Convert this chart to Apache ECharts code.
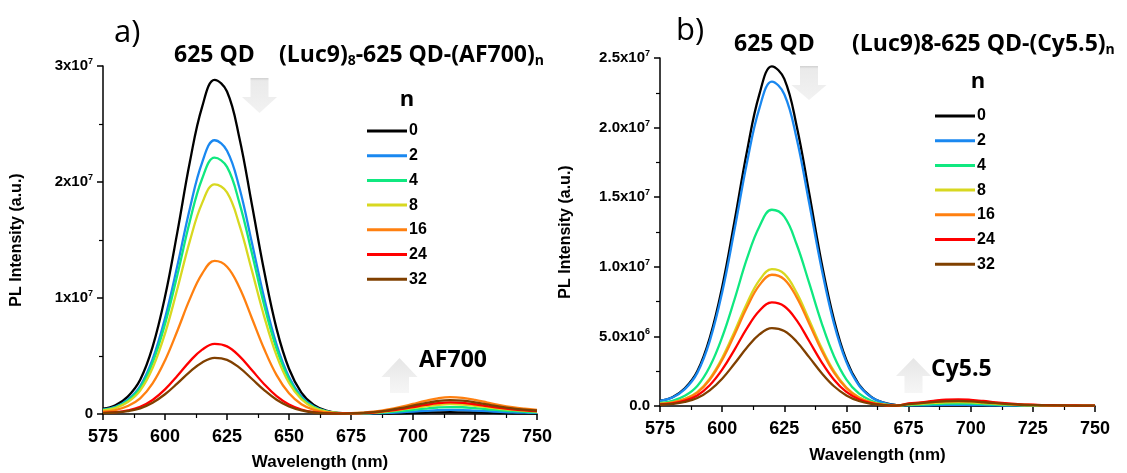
<!DOCTYPE html>
<html>
<head>
<meta charset="utf-8">
<script src="https://cdn.jsdelivr.net/npm/echarts@6/dist/echarts.min.js"></script>
<style>
  html, body { margin: 0; padding: 0; background: #fff; }
  #chart { width: 1127px; height: 473px; }
</style>
</head>
<body>
<div id="chart"></div>
<script>
// wavelength (nm), 5 nm steps
const wavelength = [575, 580, 585, 590, 595, 600, 605, 610, 615, 620, 625, 630, 635, 640, 645, 650, 655, 660,
  665, 670, 675, 680, 685, 690, 695, 700, 705, 710, 715, 720, 725, 730, 735, 740, 745, 750]

const nValues = ['0', '2', '4', '8', '16', '24', '32']
const lineColors = ['#000000', '#1a88f0', '#10e880', '#d8d820', '#ff8010', '#ff0000', '#804000']

// panel a) (Luc9)8-625 QD-(AF700)n, PL intensity in units of 1e6
const afN0 = [0.46, 0.75, 1.50, 2.95, 5.78, 10.1, 15.7, 21.7, 26.5, 28.8, 27.8, 23.8, 18.1, 12.3, 7.34, 3.90, 1.85, 0.78,
  0.29, 0.09, 0.04, 0.02, 0.02, 0.04, 0.06, 0.09, 0.12, 0.14, 0.15, 0.14, 0.13, 0.10, 0.08, 0.06, 0.05, 0.04]
const afN2 = [0.38, 0.61, 1.23, 2.41, 4.72, 8.26, 12.8, 17.7, 21.7, 23.6, 22.7, 19.5, 14.8, 10.0, 5.99, 3.19, 1.51, 0.64,
  0.24, 0.08, 0.04, 0.03, 0.05, 0.09, 0.15, 0.21, 0.27, 0.33, 0.35, 0.34, 0.29, 0.24, 0.19, 0.14, 0.11, 0.09]
const afN4 = [0.35, 0.57, 1.15, 2.25, 4.42, 7.74, 12.0, 16.6, 20.3, 22.1, 21.3, 18.2, 13.9, 9.37, 5.61, 2.98, 1.41, 0.60,
  0.23, 0.08, 0.04, 0.05, 0.09, 0.16, 0.25, 0.36, 0.47, 0.56, 0.60, 0.58, 0.50, 0.41, 0.32, 0.25, 0.19, 0.15]
const afN8 = [0.32, 0.51, 1.03, 2.02, 3.96, 6.93, 10.8, 14.9, 18.2, 19.8, 19.1, 16.3, 12.4, 8.40, 5.03, 2.67, 1.27, 0.53,
  0.21, 0.08, 0.05, 0.07, 0.13, 0.23, 0.36, 0.51, 0.66, 0.79, 0.85, 0.82, 0.71, 0.58, 0.45, 0.35, 0.27, 0.21]
const afN16 = [0.21, 0.34, 0.69, 1.35, 2.64, 4.62, 7.18, 9.90, 12.1, 13.2, 12.7, 10.9, 8.28, 5.60, 3.35, 1.78, 0.84, 0.36,
  0.15, 0.07, 0.07, 0.12, 0.22, 0.39, 0.61, 0.87, 1.13, 1.35, 1.45, 1.39, 1.22, 0.99, 0.77, 0.59, 0.46, 0.36]
const afN24 = [0.10, 0.16, 0.31, 0.62, 1.21, 2.12, 3.29, 4.54, 5.55, 6.04, 5.83, 4.99, 3.79, 2.57, 1.54, 0.82, 0.39, 0.16,
  0.07, 0.04, 0.05, 0.08, 0.15, 0.27, 0.42, 0.60, 0.78, 0.93, 1.00, 0.96, 0.84, 0.68, 0.53, 0.41, 0.32, 0.25]
const afN32 = [0.08, 0.13, 0.25, 0.49, 0.97, 1.70, 2.64, 3.64, 4.45, 4.84, 4.67, 4.00, 3.04, 2.06, 1.23, 0.65, 0.31, 0.13,
  0.06, 0.03, 0.05, 0.10, 0.18, 0.32, 0.50, 0.72, 0.94, 1.12, 1.20, 1.15, 1.01, 0.82, 0.64, 0.49, 0.38, 0.30]

// panel b) (Luc9)8-625 QD-(Cy5.5)n, PL intensity in units of 1e6
const cyN0 = [0.39, 0.63, 1.27, 2.49, 4.88, 8.54, 13.3, 18.3, 22.4, 24.4, 23.5, 20.1, 15.3, 10.3, 6.20, 3.29, 1.56, 0.66,
  0.24, 0.07, 0.03, 0.02, 0.03, 0.04, 0.04, 0.04, 0.03, 0.02, 0.02, 0.01, 0.01, 0.01, 0.01, 0.01, 0.01, 0.01]
const cyN2 = [0.37, 0.61, 1.21, 2.38, 4.66, 8.16, 12.7, 17.5, 21.4, 23.3, 22.4, 19.2, 14.6, 9.88, 5.92, 3.15, 1.49, 0.63,
  0.23, 0.07, 0.05, 0.04, 0.06, 0.08, 0.08, 0.07, 0.06, 0.04, 0.03, 0.02, 0.01, 0.01, 0.01, 0.01, 0.01, 0.01]
const cyN4 = [0.23, 0.37, 0.73, 1.44, 2.82, 4.94, 7.67, 10.6, 12.9, 14.1, 13.6, 11.6, 8.84, 5.98, 3.58, 1.90, 0.90, 0.38,
  0.14, 0.04, 0.07, 0.10, 0.14, 0.17, 0.18, 0.17, 0.14, 0.10, 0.07, 0.05, 0.03, 0.02, 0.02, 0.01, 0.01, 0.01]
const cyN8 = [0.16, 0.26, 0.51, 1.00, 1.97, 3.45, 5.36, 7.39, 9.04, 9.83, 9.49, 8.13, 6.18, 4.18, 2.50, 1.33, 0.63, 0.27,
  0.10, 0.03, 0.11, 0.15, 0.22, 0.27, 0.28, 0.26, 0.21, 0.15, 0.11, 0.07, 0.05, 0.04, 0.03, 0.02, 0.02, 0.01]
const cyN16 = [0.15, 0.25, 0.49, 0.96, 1.89, 3.31, 5.14, 7.09, 8.68, 9.43, 9.10, 7.80, 5.93, 4.01, 2.40, 1.28, 0.60, 0.26,
  0.09, 0.03, 0.16, 0.23, 0.33, 0.40, 0.42, 0.39, 0.32, 0.23, 0.16, 0.11, 0.08, 0.05, 0.04, 0.03, 0.03, 0.02]
const cyN24 = [0.12, 0.19, 0.39, 0.76, 1.49, 2.61, 4.05, 5.59, 6.84, 7.44, 7.17, 6.15, 4.67, 3.16, 1.89, 1.01, 0.48, 0.20,
  0.07, 0.02, 0.18, 0.26, 0.37, 0.46, 0.48, 0.44, 0.36, 0.26, 0.18, 0.12, 0.09, 0.06, 0.05, 0.04, 0.03, 0.02]
const cyN32 = [0.09, 0.15, 0.29, 0.57, 1.12, 1.96, 3.05, 4.20, 5.14, 5.59, 5.39, 4.62, 3.51, 2.37, 1.42, 0.76, 0.36, 0.15,
  0.06, 0.02, 0.13, 0.20, 0.28, 0.34, 0.36, 0.33, 0.27, 0.20, 0.14, 0.09, 0.06, 0.05, 0.04, 0.03, 0.02, 0.02]

// tick labels: [mantissa text, exponent]
const yTicksA = { 0: ['0', ''], 10: ['1x10', '7'], 20: ['2x10', '7'], 30: ['3x10', '7'] }
const yTicksB = { 0: ['0.0', ''], 5: ['5.0x10', '6'], 10: ['1.0x10', '7'], 15: ['1.5x10', '7'], 20: ['2.0x10', '7'], 25: ['2.5x10', '7'] }

const afSeries = [afN0, afN2, afN4, afN8, afN16, afN24, afN32]
const cySeries = [cyN0, cyN2, cyN4, cyN8, cyN16, cyN24, cyN32]

const SANS = '"Liberation Sans", Arial, sans-serif'
const CAL = '"Open Sans", "Noto Sans", sans-serif'

const chart = echarts.init(document.getElementById('chart'))

function pairs(ys) {
  return wavelength.map((x, i) => [x, ys[i]])
}

function tickFmt(table) {
  return function(v) {
    const t = table[Math.round(v)]
    if (!t) return ''
    return t[1] ? '{m|' + t[0] + '}{s|' + t[1] + '}' : '{m|' + t[0] + '}'
  }
}

const richTick = {
  m: { fontFamily: SANS, fontWeight: 'bold', fontSize: 15, color: '#000' },
  s: { fontFamily: SANS, fontWeight: 'bold', fontSize: 9, color: '#000', padding: [0, 0, 9, 0] }
}

function xAxis(gridIndex, gap) {
  return {
    type: 'value',
    gridIndex: gridIndex,
    min: 575,
    max: 750,
    interval: 25,
    name: 'Wavelength (nm)',
    nameLocation: 'middle',
    nameGap: gap,
    nameTextStyle: { fontFamily: SANS, fontWeight: 'bold', fontSize: 17, color: '#000', verticalAlign: 'top' },
    axisLine: { lineStyle: { color: '#000', width: 1.5 } },
    axisTick: { inside: false, length: 6, lineStyle: { color: '#000', width: 1.5 } },
    minorTick: { show: true, splitNumber: 2, length: 4, lineStyle: { color: '#000', width: 1.2 } },
    axisLabel: { fontFamily: SANS, fontWeight: 'bold', fontSize: 18, color: '#000', margin: 14 },
    splitLine: { show: false }
  }
}

function yAxis(gridIndex, max, interval, table, gap) {
  return {
    type: 'value',
    gridIndex: gridIndex,
    min: 0,
    max: max,
    interval: interval,
    name: 'PL Intensity (a.u.)',
    nameLocation: 'middle',
    nameGap: gap,
    nameTextStyle: { fontFamily: SANS, fontWeight: 'bold', fontSize: 16, color: '#000' },
    axisLine: { show: true, lineStyle: { color: '#000', width: 1.5 } },
    axisTick: { show: true, inside: false, length: 6, lineStyle: { color: '#000', width: 1.5 } },
    minorTick: { show: true, splitNumber: 2, length: 4, lineStyle: { color: '#000', width: 1.2 } },
    axisLabel: { formatter: tickFmt(table), rich: richTick, margin: 10 },
    splitLine: { show: false }
  }
}

function lines(list, idx) {
  return list.map((ys, i) => ({
    name: nValues[i],
    type: 'line',
    xAxisIndex: idx,
    yAxisIndex: idx,
    data: pairs(ys),
    smooth: 0.4,
    symbol: 'none',
    lineStyle: { color: lineColors[i], width: 2.3 },
    itemStyle: { color: lineColors[i] },
    z: 2 + i
  }))
}

function legend(left, top) {
  return {
    data: nValues,
    orient: 'vertical',
    left: left,
    top: top,
    icon: 'rect',
    itemWidth: 40,
    itemHeight: 3,
    itemGap: 8.7,
    selectedMode: false,
    textStyle: { fontFamily: SANS, fontWeight: 'bold', fontSize: 16, lineHeight: 14, color: '#000', padding: [0, 0, 0, -3] }
  }
}

function arrow(cx, tipY, headY, baseY, headHalf, shaftHalf, down) {
  const pts = down
    ? [[cx - shaftHalf, baseY], [cx + shaftHalf, baseY], [cx + shaftHalf, headY], [cx + headHalf, headY],
      [cx, tipY], [cx - headHalf, headY], [cx - shaftHalf, headY]]
    : [[cx, tipY], [cx + headHalf, headY], [cx + shaftHalf, headY], [cx + shaftHalf, baseY],
      [cx - shaftHalf, baseY], [cx - shaftHalf, headY], [cx - headHalf, headY]]
  return {
    type: 'polygon',
    shape: { points: pts },
    style: {
      fill: new echarts.graphic.LinearGradient(0, 0, 0, 1, down
        ? [{ offset: 0, color: '#d0d0d0' }, { offset: 0.08, color: '#eaeaea' }, { offset: 1, color: '#f2f2f2' }]
        : [{ offset: 0, color: '#e6e6e6' }, { offset: 1, color: '#f6f6f6' }])
    },
    z: 1
  }
}

function text(x, y, str, size, weight, align, rich) {
  return {
    type: 'text',
    x: x,
    y: y,
    style: {
      text: str,
      fontFamily: CAL,
      fontSize: size,
      fontWeight: weight,
      fill: '#000',
      align: align || 'left',
      verticalAlign: 'middle',
      rich: rich
    },
    z: 10
  }
}

const titleRich = {
  t: { fontFamily: CAL, fontSize: 23, fontWeight: 'bold', color: '#000' },
  sub: { fontFamily: CAL, fontSize: 14, fontWeight: 'bold', color: '#000', padding: [12, 0, 0, 0] }
}

chart.setOption({
  animation: false,
  backgroundColor: '#fff',
  grid: [
    { left: 103, top: 66, width: 434, height: 348, outerBoundsMode: 'none' },
    { left: 660, top: 58, width: 435, height: 348, outerBoundsMode: 'none' }
  ],
  xAxis: [xAxis(0, 40), xAxis(1, 41)],
  yAxis: [yAxis(0, 30, 10, yTicksA, 78), yAxis(1, 25, 5, yTicksB, 86)],
  legend: [legend(362, 118), legend(930, 103)],
  series: lines(afSeries, 0).concat(lines(cySeries, 1)),
  graphic: [
    arrow(259.5, 113, 97, 78, 17.5, 9, true),
    arrow(399.5, 358, 377, 393, 18, 9.5, false),
    arrow(809, 100, 85, 66, 17.5, 9, true),
    arrow(913.5, 358, 376, 393, 17.5, 9, false),
    text(114, 33, 'a)', 31, 'normal'),
    text(676, 31, 'b)', 31, 'normal'),
    text(174, 55, '625 QD', 23, 'bold'),
    text(734, 44, '625 QD', 23, 'bold'),
    text(279, 55, '{t|(Luc9)}{sub|8}{t|-625 QD-(AF700)}{sub|n}', 23, 'bold', 'left', titleRich),
    text(852, 44, '{t|(Luc9)8-625 QD-(Cy5.5)}{sub|n}', 23, 'bold', 'left', titleRich),
    text(407, 100, 'n', 22, 'bold', 'center'),
    text(978, 82, 'n', 22, 'bold', 'center'),
    text(419, 360, 'AF700', 23, 'bold'),
    text(931, 369, 'Cy5.5', 23, 'bold')
  ]
})
</script>
</body>
</html>
